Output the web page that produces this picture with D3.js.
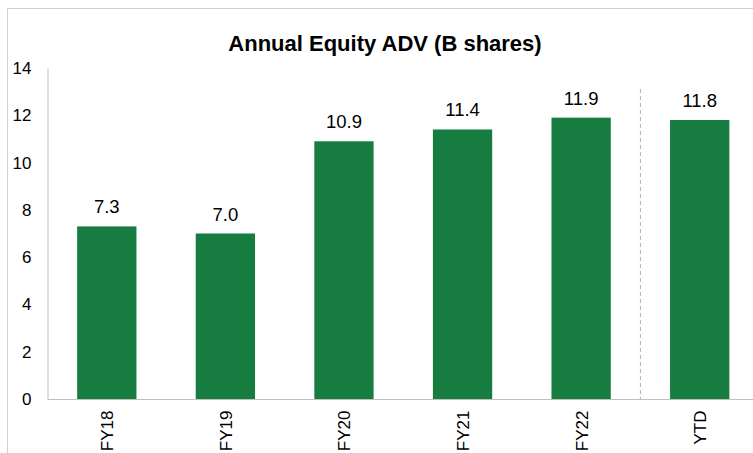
<!DOCTYPE html>
<html>
<head>
<meta charset="utf-8">
<script src="https://cdn.jsdelivr.net/npm/d3@7"></script>
<style>
  html, body { margin: 0; padding: 0; background: #fff; overflow: hidden; }
  svg { display: block; font-family: "Liberation Sans", Arial, sans-serif; }
</style>
</head>
<body>
<svg id="chart" width="753" height="453"></svg>
<script>
// Annual equity average daily volume, billions of shares
const categories = ["FY18", "FY19", "FY20", "FY21", "FY22", "YTD"];
const values = [7.3, 7.0, 10.9, 11.4, 11.9, 11.8];
const yTicks = [0, 2, 4, 6, 8, 10, 12, 14];
const title = "Annual Equity ADV (B shares)";

const svg = d3.select("#chart");
const plot = { left: 47.5, right: 759, top: 68, bottom: 399 };
const barColor = "#167C3F";
const axisColor = "#BFBFBF";
const font = "'Liberation Sans', Arial, sans-serif";

// outer frame
svg.append("rect")
  .attr("x", 7.5).attr("y", 8.5)
  .attr("width", 800).attr("height", 500)
  .attr("fill", "none").attr("stroke", "#D0D0D0").attr("stroke-width", 1);

// title
svg.append("text")
  .attr("x", 385).attr("y", 51)
  .attr("text-anchor", "middle")
  .attr("font-size", 22).attr("font-weight", "bold").attr("fill", "#000")
  .text(title);

const x = d3.scaleBand()
  .domain(categories)
  .range([plot.left, plot.right])
  .paddingInner(0.5).paddingOuter(0.25);

const y = d3.scaleLinear().domain([0, 14]).range([plot.bottom, plot.top]);

// y axis
const yAxis = svg.append("g")
  .attr("transform", `translate(${plot.left},0)`)
  .call(d3.axisLeft(y).tickValues(yTicks).tickSize(0).tickPadding(16).tickFormat(d3.format("d")));
yAxis.select(".domain").attr("stroke", axisColor);
yAxis.selectAll("text")
  .attr("font-size", 17).attr("fill", "#000")
  .attr("font-family", font);

// bars
svg.append("g").selectAll("rect")
  .data(categories)
  .join("rect")
  .attr("x", d => x(d))
  .attr("y", (d, i) => y(values[i]))
  .attr("width", x.bandwidth())
  .attr("height", (d, i) => y(0) - y(values[i]))
  .attr("fill", barColor);

// value labels
svg.append("g").selectAll("text")
  .data(categories)
  .join("text")
  .attr("x", d => x(d) + x.bandwidth() / 2)
  .attr("y", (d, i) => y(values[i]) - 13)
  .attr("text-anchor", "middle")
  .attr("font-size", 18.5).attr("fill", "#000")
  .attr("font-family", font)
  .text((d, i) => values[i].toFixed(1));

// separator between full years and year-to-date
const sepX = (x("FY22") + x.bandwidth() + x("YTD")) / 2;
svg.append("line")
  .attr("x1", sepX).attr("x2", sepX)
  .attr("y1", 89).attr("y2", plot.bottom)
  .attr("stroke", "#B0B0B0").attr("stroke-width", 1)
  .attr("stroke-dasharray", "4,3");

// x axis, category labels rotated to read bottom-up
const xAxis = svg.append("g")
  .attr("transform", `translate(0,${plot.bottom})`)
  .call(d3.axisBottom(x).tickSize(0).tickPadding(0));
xAxis.select(".domain").attr("stroke", axisColor);
xAxis.selectAll("text")
  .attr("font-size", 17).attr("fill", "#000")
  .attr("font-family", font)
  .attr("text-anchor", "end")
  .attr("dy", 6.5)
  .attr("transform", "translate(0,11.5) rotate(-90)")
  .attr("x", 0).attr("y", 0);
</script>
</body>
</html>
